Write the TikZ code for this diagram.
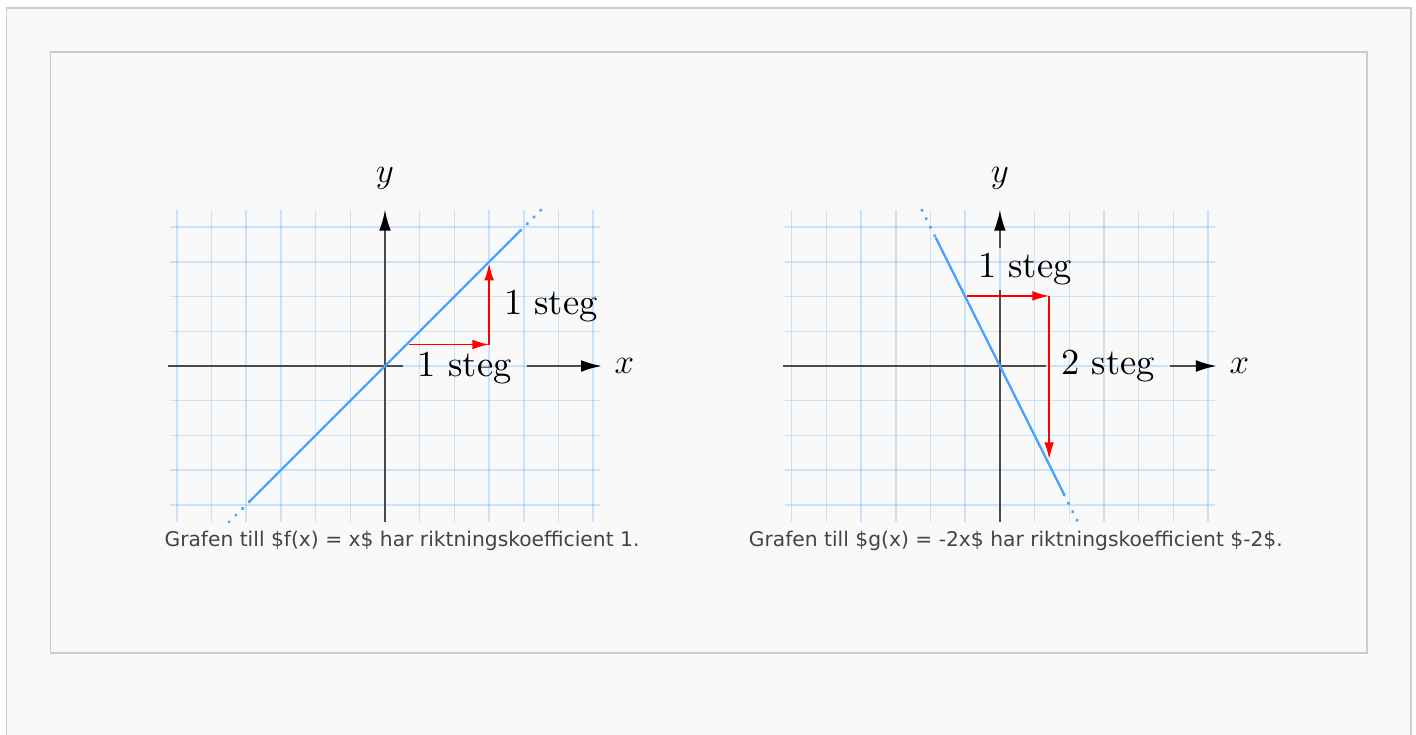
\documentclass[tikz,border=0pt]{standalone}
\usepackage{fontspec}
\usetikzlibrary{arrows.meta,positioning,calc}
\newfontfamily\capfont{DejaVu Sans}
\newfontfamily\stegfont{lmroman10-regular}[Extension=.otf]
\definecolor{kfBg}{HTML}{F9F9F9}
\definecolor{kfFrame}{HTML}{CCCCCC}
\definecolor{kfGrid}{HTML}{3399FF}
\definecolor{kfLine}{HTML}{4AA3FF}
\definecolor{kfAxis}{HTML}{4A4A4A}
\definecolor{kfText}{HTML}{444444}
\definecolor{kfRed}{HTML}{FF0000}
\tikzset{
  gridln/.style={draw=kfGrid, draw opacity=0.23, line width=0.6pt},
  axisln/.style={draw=kfAxis, line width=0.8pt},
  axis/.style={axisln, -{Latex[length=3mm,width=1.7mm,color=black]}},
  fline/.style={draw=kfLine, line width=1pt},
  fdots/.style={fline, line width=1.2pt, line cap=round, dash pattern=on 0.3pt off 3.6pt},
  stp/.style={draw=kfRed, line width=0.65pt, -{Latex[length=2.4mm,width=1.4mm]}},
  axlbl/.style={font=\fontsize{15}{18}\selectfont, inner sep=1pt},
  steglbl/.style={inner xsep=6pt, inner ysep=2pt, font=\stegfont\fontsize{15}{18}\selectfont},
  captxt/.style={font=\capfont\fontsize{8.3}{10}\selectfont, text=kfText, inner sep=0pt},
}
\begin{document}
\begin{tikzpicture}[x=0.5cm, y=0.5cm]
  \useasboundingbox (-11.095,-10.605) rectangle (29.712,10.548);
  \fill[white] (-11.095,-10.605) rectangle (29.712,10.548);
  \draw[kfFrame, fill=kfBg, line width=0.8pt] (-10.908,-11.5) rectangle (29.567,10.331);
  \draw[kfFrame, fill=kfBg, line width=0.8pt] (-9.640,-8.271) rectangle (28.299,9.049);
  % f(x) = x
  \coordinate (fo) at (0,0);
  \foreach \u in {-6,...,6} \draw[gridln] (\u,-4.5) -- (\u,4.5);
  \foreach \v in {-4,...,4} \draw[gridln] (-6.2,\v) -- (6.2,\v);
  \node[axlbl] (fx) at (6.9,0) {$x$};
  \node[axlbl] (fy) at (0,5.42) {$y$};
  \node[steglbl] (fh) at (2.3,-0.06) {1 steg};
  \node[steglbl] (fv) at (4.78,1.73) {1 steg};
  \draw[axisln] (-6.25,0) -- (fh.west |- fo);
  \draw[axis] (fh.east |- fo) -- (6.25,0);
  \draw[axis] (0,-4.5) -- (0,4.5);
  \draw[fdots] (-4.5,-4.5) -- (-3.9,-3.9);
  \draw[fline] (-3.9,-3.9) -- (3.9,3.9);
  \draw[fdots] (3.9,3.9) -- (4.5,4.5);
  \coordinate (f0) at (0.68,0.62);
  \coordinate (f1) at (3,0.62);
  \coordinate (f2) at (3,2.95);
  \draw[stp] (f0) -- (f1);
  \draw[stp] (f1) -- (f2);
  \node[captxt] (fcap) at (0.49,-5.04) {Grafen till \$f(x) = x\$ har riktningskoefficient 1.};
  % g(x) = -2x
  \begin{scope}[shift={(17.72,0)}]
    \coordinate (go) at (0,0);
    \foreach \u in {-6,...,6} \draw[gridln] (\u,-4.5) -- (\u,4.5);
    \foreach \v in {-4,...,4} \draw[gridln] (-6.2,\v) -- (6.2,\v);
    \node[axlbl] (gx) at (6.9,0) {$x$};
    \node[axlbl] (gy) at (0,5.42) {$y$};
    \node[steglbl] (gh) at (0.72,2.8) {1 steg};
    \node[steglbl] (gv) at (3.12,0) {2 steg};
    \draw[axisln] (-6.25,0) -- (gv.west |- go);
    \draw[axis] (gv.east |- go) -- (6.25,0);
    \draw[axisln] (0,-4.5) -- (go |- gh.south);
    \draw[axis] (go |- gh.north) -- (0,4.5);
    \draw[fdots] (-2.25,4.5) -- (-1.85,3.7);
    \draw[fline] (-1.85,3.7) -- (1.85,-3.7);
    \draw[fdots] (1.85,-3.7) -- (2.25,-4.5);
    \coordinate (g0) at (-0.95,2.02);
    \coordinate (g1) at (1.42,2.02);
    \coordinate (g2) at (1.42,-2.68);
    \draw[stp] (g0) -- (g1);
    \draw[stp] (g1) -- (g2);
    \node[captxt] (gcap) at (0.46,-5.04) {Grafen till \$g(x) = -2x\$ har riktningskoefficient \$-2\$.};
  \end{scope}
\end{tikzpicture}
\end{document}
